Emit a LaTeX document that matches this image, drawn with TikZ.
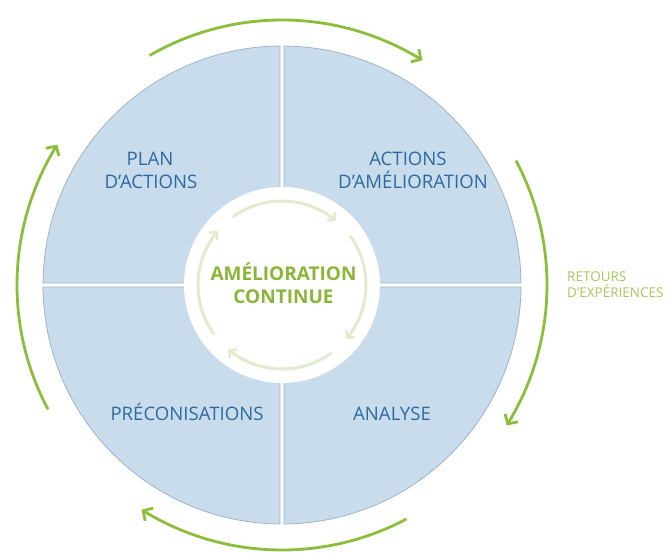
\documentclass[tikz,border=0pt]{standalone}
\usepackage{fontspec}
\setmainfont{Open Sans}
\usetikzlibrary{arrows.meta,bending,calc}
\definecolor{qfill}{RGB}{201,220,235}
\definecolor{qline}{RGB}{158,180,198}
\definecolor{tblue}{RGB}{46,106,162}
\definecolor{agreen}{RGB}{140,190,60}
\definecolor{cgreen}{RGB}{138,182,56}
\definecolor{rgreen}{RGB}{165,200,95}
\definecolor{igreen}{RGB}{226,235,206}
\tikzset{
  quad/.style={fill=qfill,draw=qline,line width=0.8pt},
  outarrow/.style={draw=agreen,line width=2.8pt,-{Straight Barb[length=7pt,width=15pt,line width=2.8pt,flex]}},
  inarrow/.style={draw=igreen,line width=3pt,-{Straight Barb[length=5pt,width=11pt,line width=2.6pt,flex]}},
  qlabel/.style={text=tblue,font=\fontsize{18.6}{22}\selectfont,inner sep=0pt,anchor=base},
  clabel/.style={text=cgreen,font=\fontsize{19}{22}\selectfont\bfseries,inner sep=0pt,anchor=base},
  rlabel/.style={text=rgreen,font=\fontsize{13.5}{16}\selectfont,inner sep=0pt,anchor=base west},
}
\begin{document}
\begin{tikzpicture}[x=1pt,y=1pt]
\useasboundingbox (0,0) rectangle (668,552);
\coordinate (C) at (282,267);
\def\R{239}
% quadrants
\draw[quad] ($(C)+(2,2)$) -- ($(C)+(0.5:\R)$) arc[start angle=0.5,end angle=89.5,radius=\R] -- cycle;
\draw[quad] ($(C)+(-2,2)$) -- ($(C)+(90.5:\R)$) arc[start angle=90.5,end angle=179.5,radius=\R] -- cycle;
\draw[quad] ($(C)+(-2,-2)$) -- ($(C)+(180.5:\R)$) arc[start angle=180.5,end angle=269.5,radius=\R] -- cycle;
\draw[quad] ($(C)+(2,-2)$) -- ($(C)+(270.5:\R)$) arc[start angle=270.5,end angle=359.5,radius=\R] -- cycle;
% inner circle
\fill[white] (C) circle[radius=98];
% outer arrows
\draw[outarrow] ($(C)+(120:265)$) arc[start angle=120,end angle=58,radius=265];
\draw[outarrow] ($(C)+(28:265)$) arc[start angle=28,end angle=-32,radius=265];
\draw[outarrow] ($(C)+(-62:265)$) arc[start angle=-62,end angle=-122,radius=265];
\draw[outarrow] ($(C)+(208:265)$) arc[start angle=208,end angle=148,radius=265];
% inner arrows
\draw[inarrow] ($(C)+(126:84)$) arc[start angle=126,end angle=50,radius=84];
\draw[inarrow] ($(C)+(36:84)$) arc[start angle=36,end angle=-40,radius=84];
\draw[inarrow] ($(C)+(-54:84)$) arc[start angle=-54,end angle=-130,radius=84];
\draw[inarrow] ($(C)+(216:84)$) arc[start angle=216,end angle=140,radius=84];
% labels
\node[qlabel] (plan1) at (150,386) {PLAN};
\node[qlabel] (plan2) at (151,363) {D'ACTIONS};
\node[qlabel] (act1) at (408,386) {ACTIONS};
\node[qlabel] (act2) at (413,363) {D'AMÉLIORATION};
\node[qlabel] (prec) at (187,132) {PRÉCONISATIONS};
\node[qlabel] (ana) at (392,132) {ANALYSE};
\node[clabel] (cen1) at (283.5,272) {AMÉLIORATION};
\node[clabel] (cen2) at (283.5,249) {CONTINUE};
\node[rlabel] (ret1) at (567,271) {RETOURS};
\node[rlabel] (ret2) at (567,255) {D'EXPÉRIENCES};
\end{tikzpicture}
\end{document}
